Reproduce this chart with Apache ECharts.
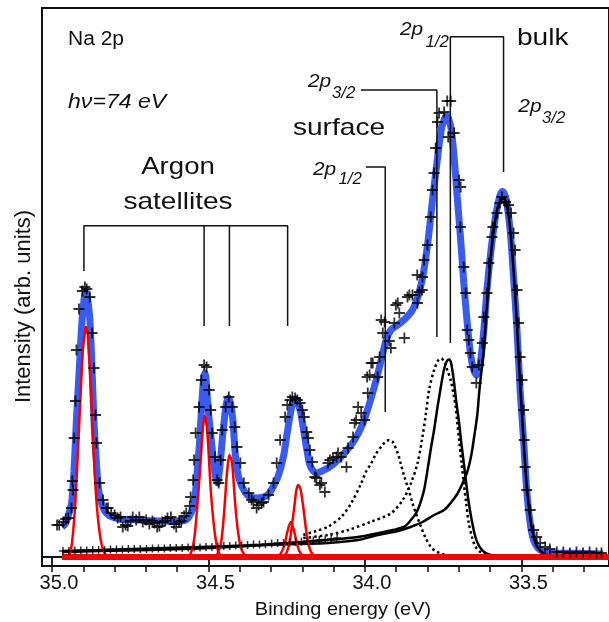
<!DOCTYPE html>
<html>
<head>
<meta charset="utf-8">
<title>Na 2p photoemission spectrum</title>
<script src="https://cdn.jsdelivr.net/npm/echarts@6/dist/echarts.min.js"></script>
<style>
  html, body { margin: 0; padding: 0; background: #fff; }
  #chart { width: 609px; height: 622px; }
</style>
</head>
<body>
<div id="chart"></div>
<script>
// Na 2p spectrum, hv = 74 eV: measured points, total fit and its components.
// Each point is [binding energy (eV), intensity (arb. units)].

const measured = [
  [34.984,32],[34.977,32],[34.964,35],[34.956,38],[34.948,39],[34.938,49],[34.933,67],[34.935,76],
  [34.929,119],[34.925,156],[34.922,207],[34.914,248],[34.903,266],[34.895,270],[34.889,268],[34.879,260],
  [34.872,224],[34.866,189],[34.861,142],[34.858,114],[34.848,74],[34.837,57],[34.826,49],[34.821,49],
  [34.811,44],[34.800,42],[34.790,39],[34.781,40],[34.774,30],[34.765,32],[34.758,31],[34.749,36],
  [34.742,40],[34.731,37],[34.721,40],[34.710,35],[34.699,37],[34.689,33],[34.679,36],[34.673,34],
  [34.664,30],[34.657,31],[34.647,35],[34.638,36],[34.631,39],[34.620,40],[34.610,33],[34.603,30],
  [34.594,35],[34.587,36],[34.578,41],[34.571,44],[34.560,51],[34.557,60],[34.549,77],[34.546,97],
  [34.541,124],[34.530,150],[34.523,177],[34.514,192],[34.506,190],[34.498,167],[34.493,147],[34.488,124],
  [34.479,100],[34.472,77],[34.467,74],[34.461,97],[34.456,127],[34.445,150],[34.435,160],[34.424,150],
  [34.416,130],[34.409,110],[34.398,94],[34.387,74],[34.371,64],[34.362,57],[34.356,55],[34.346,49],
  [34.340,52],[34.330,54],[34.324,55],[34.308,62],[34.292,74],[34.282,94],[34.271,117],[34.255,140],
  [34.248,152],[34.239,157],[34.232,160],[34.223,159],[34.216,157],[34.207,154],[34.200,147],[34.194,140],
  [34.186,125],[34.181,119],[34.176,107],[34.168,95],[34.160,80],[34.155,79],[34.144,72],[34.139,74],
  [34.128,65],[34.118,94],[34.112,97],[34.102,99],[34.091,100],[34.086,104],[34.076,100],[34.059,90],
  [34.054,109],[34.038,120],[34.033,134],[34.028,137],[34.022,150],[34.012,144],[34.001,137],[33.991,164],
  [33.993,180],[33.985,182],[33.980,194],[33.975,194],[33.959,180],[33.953,200],[33.948,237],[33.943,224],
  [33.937,235],[33.922,216],[33.917,209],[33.906,234],[33.901,252],[33.895,254],[33.890,244],[33.874,219],
  [33.864,260],[33.858,262],[33.848,262],[33.832,254],[33.833,282],[33.826,265],[33.816,280],[33.817,267],
  [33.811,297],[33.800,312],[33.790,340],[33.784,367],[33.779,384],[33.774,409],[33.768,435],[33.763,444],
  [33.747,445],[33.737,456],[33.726,456],[33.734,420],[33.715,424],[33.699,377],[33.694,370],[33.695,330],
  [33.684,290],[33.678,264],[33.673,227],[33.668,217],[33.663,204],[33.657,190],[33.644,174],[33.636,192],
  [33.625,214],[33.620,240],[33.610,264],[33.604,294],[33.594,320],[33.591,330],[33.578,344],[33.569,354],
  [33.562,360],[33.551,355],[33.541,352],[33.533,344],[33.525,324],[33.520,307],[33.514,267],[33.509,234],
  [33.504,200],[33.498,177],[33.493,147],[33.491,117],[33.488,90],[33.483,67],[33.472,47],[33.461,27],
  [33.451,20],[33.440,14],[33.424,10],[33.409,8],[33.387,5],[33.366,5],[33.345,4],[33.324,5],
  [33.303,4],[33.282,5],[33.260,4],[33.244,4]
];

// points along the low-energy-loss tail near the baseline
const tailPoints = [
  [34.965,6],[34.946,6],[34.927,6.5],[34.908,6.5],[34.889,6.5],[34.870,7],[34.851,7],[34.832,7],
  [34.813,7.5],[34.794,7.5],[34.775,7.5],[34.756,8],[34.737,8],[34.718,8],[34.698,8],[34.679,8.5],
  [34.660,8.5],[34.641,8.5],[34.622,9],[34.603,9],[34.584,9],[34.565,9.5],[34.546,9.5],[34.527,9.5],
  [34.508,10],[34.489,10],[34.470,10.5],[34.451,11],[34.432,11],[34.413,11.5],[34.394,11.5],[34.375,12],
  [34.356,12.5],[34.337,12.5],[34.318,13],[34.298,13.5],[34.279,14],[34.260,14],[34.241,14.5],[34.222,15],
  [34.203,15.5],[34.184,16],[34.165,16.5],[34.146,17],[34.127,17.5],[34.108,18],[34.089,19]
];

const fitTotal = [
  [34.968,30],[34.956,34],[34.943,47],[34.937,55],[34.930,85],[34.922,137],[34.913,187],[34.904,237],
  [34.897,259],[34.892,266],[34.887,260],[34.879,237],[34.872,187],[34.866,137],[34.857,89],[34.851,67],
  [34.842,54],[34.832,46],[34.816,41],[34.784,38],[34.721,37],[34.657,36],[34.594,36],[34.568,38],
  [34.556,44],[34.546,52],[34.537,82],[34.528,117],[34.522,150],[34.516,177],[34.512,184],[34.508,179],
  [34.502,152],[34.491,117],[34.480,85],[34.472,74],[34.464,89],[34.456,117],[34.445,149],[34.440,157],
  [34.435,159],[34.429,153],[34.422,137],[34.414,102],[34.403,79],[34.382,64],[34.365,60],[34.346,59],
  [34.324,60],[34.308,63],[34.292,71],[34.276,82],[34.260,101],[34.248,125],[34.236,147],[34.229,156],
  [34.223,158],[34.216,155],[34.207,147],[34.197,129],[34.186,108],[34.176,92],[34.165,86],[34.155,84],
  [34.137,86],[34.118,89],[34.096,94],[34.065,104],[34.033,117],[34.006,134],[33.985,154],[33.964,177],
  [33.948,197],[33.932,217],[33.917,227],[33.895,232],[33.869,239],[33.848,247],[33.832,259],[33.816,279],
  [33.800,312],[33.784,357],[33.768,399],[33.756,427],[33.746,438],[33.739,441],[33.732,438],[33.724,427],
  [33.715,400],[33.705,360],[33.694,317],[33.684,274],[33.673,234],[33.663,204],[33.654,189],[33.644,182],
  [33.637,185],[33.631,194],[33.620,227],[33.610,267],[33.597,307],[33.583,340],[33.572,357],[33.567,363],
  [33.561,365.5],[33.554,363],[33.548,357],[33.536,327],[33.525,280],[33.514,227],[33.504,167],[33.493,117],
  [33.483,67],[33.472,34],[33.461,17],[33.440,7],[33.409,4.3],[33.334,3.7],[33.239,3]
];

// argon-excited satellite lines
const arPeak1 = [
  [34.956,0],[34.946,2],[34.937,12],[34.927,47],[34.920,87],[34.914,127],[34.908,167],[34.902,205],
  [34.895,225],[34.892,230],[34.887,226],[34.883,207],[34.876,172],[34.870,127],[34.864,87],[34.857,52],
  [34.849,27],[34.841,12],[34.832,4],[34.819,0]
];
const arPeak2 = [
  [34.565,0],[34.556,4],[34.546,17],[34.538,42],[34.532,65],[34.525,97],[34.519,125],[34.512,141],
  [34.506,132],[34.500,107],[34.494,73],[34.487,45],[34.479,22],[34.470,7],[34.460,1],[34.451,0]
];
const arPeak3 = [
  [34.479,0],[34.470,4],[34.460,14],[34.452,37],[34.446,62],[34.440,87],[34.433,102],[34.425,95],
  [34.419,72],[34.413,47],[34.405,24],[34.397,10],[34.387,3],[34.375,0]
];
const arPeak4 = [
  [34.283,0],[34.270,3],[34.257,12],[34.248,25],[34.237,35],[34.229,29],[34.219,16],[34.210,6],
  [34.197,1],[34.184,0]
];
const arPeak5 = [
  [34.264,0],[34.251,4],[34.241,14],[34.233,32],[34.225,52],[34.219,67],[34.213,72],[34.206,68],
  [34.198,52],[34.190,32],[34.183,16],[34.175,7],[34.165,2],[34.152,0]
];
const baseline = [[34.968,0],[33.22,0]];

// bulk components (solid)
const bulk32 = [
  [34.968,6],[34.848,7],[34.689,8.5],[34.530,10],[34.371,11.5],[34.213,13],[34.118,14],[34.022,17],
  [33.959,22],[33.895,26],[33.854,30],[33.816,35],[33.779,42],[33.747,47],[33.726,54],[33.705,63],
  [33.689,73],[33.673,85],[33.660,102],[33.651,120],[33.641,142],[33.635,164],[33.629,182],[33.620,207],
  [33.613,239],[33.606,267],[33.600,292],[33.594,312],[33.587,329],[33.579,345],[33.571,354],[33.561,358.5],
  [33.552,357],[33.546,351],[33.537,332],[33.525,287],[33.514,232],[33.504,174],[33.493,117],[33.483,72],
  [33.473,42],[33.464,25],[33.451,11],[33.435,5],[33.419,2],[33.387,0.5],[33.324,0],[33.238,0]
];
const bulk12 = [
  [34.968,5],[34.848,6],[34.689,7],[34.530,8.5],[34.371,11],[34.213,14.5],[34.118,17],[34.022,20],
  [33.959,23.7],[33.911,27],[33.874,30.3],[33.853,37],[33.837,43.7],[33.825,52],[33.811,67],[33.800,87],
  [33.790,107],[33.779,127],[33.768,150],[33.759,167],[33.752,180],[33.746,189],[33.738,196],[33.731,197.5],
  [33.724,193],[33.715,174],[33.708,155],[33.699,134],[33.692,114],[33.684,94],[33.676,73],[33.668,54],
  [33.657,34],[33.647,20],[33.635,11],[33.620,5.3],[33.603,2.5],[33.578,1],[33.546,0]
];

// surface components (dotted)
const surf32 = [
  [34.197,19],[34.118,22],[34.054,27],[33.980,35.3],[33.917,43.7],[33.879,57],[33.853,73.7],[33.832,93.7],
  [33.816,120.3],[33.805,143.7],[33.795,167],[33.779,187],[33.765,197],[33.756,198.5],[33.746,195],[33.737,187],
  [33.726,177],[33.717,163],[33.710,150],[33.705,135],[33.699,117],[33.692,96],[33.684,73.7],[33.676,53],
  [33.668,33.7],[33.657,19],[33.647,10.3],[33.629,4.5],[33.610,2],[33.578,0.5],[33.546,0]
];
const surf12 = [
  [34.197,22],[34.156,26],[34.118,30.3],[34.075,40.3],[34.044,53.7],[34.012,73.7],[33.997,85],[33.980,93.7],
  [33.965,103],[33.948,110.3],[33.935,115],[33.922,117],[33.911,115],[33.895,103.7],[33.886,94],[33.874,80.3],
  [33.860,67],[33.848,53.7],[33.835,42],[33.821,30.3],[33.806,19],[33.790,10.3],[33.775,6],[33.758,3.7],
  [33.737,1.5],[33.705,0]
];

// peak markers drawn as brackets
const argonBracket = [[34.898,286],[34.898,331.3],[34.247,331.3],[34.247,231]];
const argonTick2 = [[34.514,331.3],[34.514,231]];
const argonTick3 = [[34.433,331.3],[34.433,231]];
const surf32Bracket = [[34.013,467],[33.770,467],[33.770,220]];
const surf12Bracket = [[33.997,390],[33.935,390],[33.935,145]];
const bulkBracket = [[33.727,214],[33.727,520.3],[33.557,520.3],[33.557,385]];

// axis ticks
const majorTicks = [35.0, 34.5, 34.0, 33.5];
const minorTicks = [35.0,34.9,34.8,34.7,34.6,34.5,34.4,34.3,34.2,34.1,34.0,33.9,33.8,33.7,33.6,33.5,33.4,33.3];

const FONT = '"Liberation Sans", Arial, Helvetica, sans-serif';
const BLUE = '#3a5bef';
const RED = '#f70000';
const INK = '#111111';
const PLUS = 'path://M0,5L10,5M5,0L5,10';

const chart = echarts.init(document.getElementById('chart'), null, { renderer: 'canvas' });

function curve(data, color, width, dash, z) {
  return {
    type: 'line', data: data, showSymbol: false, smooth: 0.3, silent: true, z: z,
    lineStyle: { color: color, width: width, type: dash || 'solid' }
  };
}
function bracket(data) {
  return {
    type: 'line', data: data, showSymbol: false, silent: true, z: 6,
    lineStyle: { color: INK, width: 1.5 }
  };
}
function label(text, x, y, opts) {
  opts = opts || {};
  return {
    type: 'text', x: x, y: y, z: 20,
    scaleX: opts.sx || 1, rotation: opts.rot || 0,
    style: {
      text: text, x: 0, y: 0,
      fill: INK,
      font: (opts.italic ? 'italic ' : '') + (opts.size || 20) + 'px ' + FONT,
      textAlign: opts.align || 'left',
      textVerticalAlign: 'middle'
    }
  };
}

const xCommon = {
  type: 'value', inverse: true, min: 33.22, max: 35.032,
  splitLine: { show: false }
};

chart.setOption({
  animation: false,
  backgroundColor: '#ffffff',
  grid: {
    left: 42, top: 8, width: 571, height: 558,
    show: true, borderColor: INK, borderWidth: 2, backgroundColor: 'transparent'
  },
  xAxis: [
    Object.assign({}, xCommon, {
      position: 'bottom',
      axisLine: { show: true, lineStyle: { color: INK, width: 2 } },
      axisTick: { show: true, customValues: majorTicks, length: 9, inside: false,
                  lineStyle: { color: INK, width: 1.8 } },
      axisLabel: { show: true, customValues: majorTicks, margin: 7, fontSize: 20,
                   fontFamily: FONT, color: INK, padding: [0, 0, 0, 14],
                   formatter: function (v) { return v.toFixed(1); } }
    }),
    Object.assign({}, xCommon, {
      position: 'bottom',
      axisLine: { show: false },
      axisTick: { show: true, customValues: minorTicks, length: 6, inside: false,
                  lineStyle: { color: INK, width: 1.5 } },
      axisLabel: { show: false }
    })
  ],
  yAxis: {
    type: 'value', min: -9, max: 549,
    axisLine: { show: true, lineStyle: { color: INK, width: 2 } },
    axisTick: { show: false }, axisLabel: { show: false }, splitLine: { show: false }
  },
  series: [
    curve(fitTotal, BLUE, 7, 'solid', 2),
    curve(surf32, '#000', 2.5, [2.5, 3], 3),
    curve(surf12, '#000', 2.5, [2.5, 3], 3),
    curve(bulk32, '#000', 2.5, 'solid', 4),
    curve(bulk12, '#000', 2.5, 'solid', 4),
    curve(baseline, RED, 6, 'solid', 4),
    curve(arPeak1, RED, 2.5, 'solid', 5),
    curve(arPeak2, RED, 2.5, 'solid', 5),
    curve(arPeak3, RED, 2.5, 'solid', 5),
    curve(arPeak4, RED, 2.5, 'solid', 5),
    curve(arPeak5, RED, 2.5, 'solid', 5),
    {
      type: 'scatter', data: tailPoints, symbol: PLUS, symbolSize: 8, silent: true, z: 6,
      itemStyle: { color: 'transparent', borderColor: '#000', borderWidth: 1.5 }
    },
    {
      type: 'scatter', data: measured, symbol: PLUS, symbolSize: 11, silent: true, z: 7,
      itemStyle: { color: 'transparent', borderColor: '#000', borderWidth: 1.8 }
    },
    bracket(argonBracket),
    bracket(argonTick2),
    bracket(argonTick3),
    bracket(surf32Bracket),
    bracket(surf12Bracket),
    bracket(bulkBracket)
  ],
  graphic: [
    label('Na 2p', 68, 39.5, { size: 20, sx: 1.05 }),
    label('hν=74 eV', 68, 102.5, { size: 21, sx: 1.1, italic: true }),
    label('Argon', 178, 167.5, { size: 23, sx: 1.2, align: 'center' }),
    label('satellites', 178, 202, { size: 24, sx: 1.17, align: 'center' }),
    label('surface', 339, 128.5, { size: 24, sx: 1.17, align: 'center' }),
    label('bulk', 517, 38.5, { size: 24, sx: 1.17 }),
    label('2p', 400, 30, { size: 19, sx: 1.1, italic: true }),
    label('1/2', 425.5, 43, { size: 16, sx: 1.05, italic: true }),
    label('2p', 308, 82, { size: 19, sx: 1.1, italic: true }),
    label('3/2', 332, 94, { size: 16, sx: 1.05, italic: true }),
    label('2p', 313, 170, { size: 19, sx: 1.1, italic: true }),
    label('1/2', 338.5, 180, { size: 16, sx: 1.05, italic: true }),
    label('2p', 518.3, 107, { size: 19, sx: 1.1, italic: true }),
    label('3/2', 542, 119, { size: 16, sx: 1.05, italic: true }),
    label('Intensity (arb. units)', 23.5, 306.5, { size: 22, align: 'center', rot: Math.PI / 2 }),
    label('Binding energy (eV)', 343, 610, { size: 19, sx: 1.05, align: 'center' })
  ]
});
</script>
</body>
</html>
